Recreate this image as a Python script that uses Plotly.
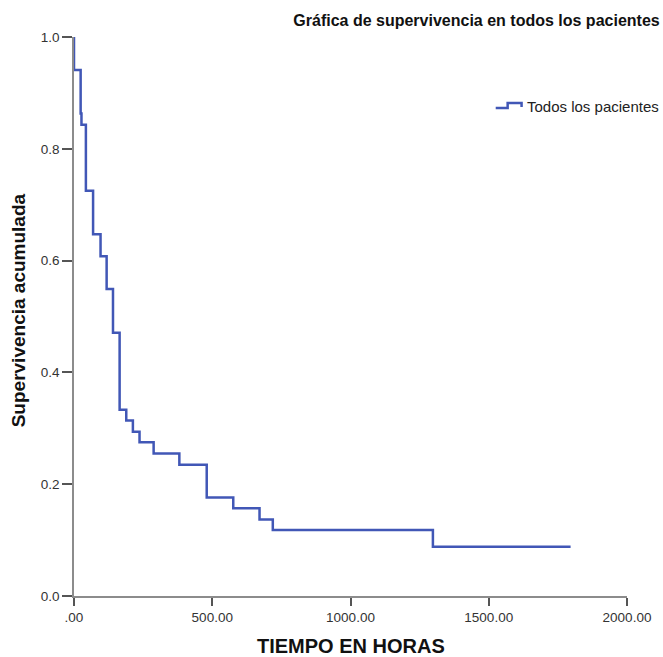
import plotly.graph_objects as go

# Kaplan-Meier step data (time in hours, cumulative survival)
tiempo = [0, 0, 24, 27, 43, 69, 96, 118, 141, 165, 189, 213, 237, 288, 381, 480, 576, 671, 719, 1298, 1796]
supervivencia = [1.0, 0.941, 0.863, 0.843, 0.725, 0.647, 0.608, 0.549, 0.471, 0.333, 0.314, 0.294,
                 0.275, 0.255, 0.235, 0.176, 0.157, 0.137, 0.118, 0.088, 0.088]

x_ticks = [0, 500, 1000, 1500, 2000]
x_ticklabels = [".00", "500.00", "1000.00", "1500.00", "2000.00"]
y_ticks = [0.0, 0.2, 0.4, 0.6, 0.8, 1.0]
y_ticklabels = ["0.0", "0.2", "0.4", "0.6", "0.8", "1.0"]

FONT = "Liberation Sans, Arial, sans-serif"
LINE = "#4157b6"
AXIS = "#8c8c8c"

# plot area in pixels (for paper-coordinate decorations)
L, R, T, B = 74, 630, 37, 596
PW, PH = R - L, B - T


def px(x):
    return (x - L) / PW


def py(y):
    return (B - y) / PH


fig = go.Figure()
fig.add_trace(go.Scatter(
    x=tiempo, y=supervivencia, mode="lines", line_shape="hv",
    line=dict(color=LINE, width=2.5), name="Todos los pacientes",
    cliponaxis=False, showlegend=False,
))

# legend icon (step-shaped) + text
icon = (f"M {px(498)},{py(108)} L {px(510)},{py(108)} L {px(510)},{py(103)} "
        f"L {px(524)},{py(103)} L {px(524)},{py(107)}")

fig.update_layout(
    width=663, height=657,
    margin=dict(l=L, r=663 - R, t=T, b=657 - B),
    paper_bgcolor="white", plot_bgcolor="white",
    font=dict(family=FONT, size=12, color="#222"),
    title=dict(text="<b>Gráfica de supervivencia en todos los pacientes</b>",
               xref="container", x=0.995, xanchor="right",
               yref="container", y=1 - 20 / 657, yanchor="middle",
               font=dict(size=16, color="#111", family=FONT)),
    showlegend=False,
    xaxis=dict(range=[0, 2000], tickvals=x_ticks, ticktext=x_ticklabels,
               showgrid=False, zeroline=False, showline=True, linecolor=AXIS, linewidth=1.5,
               ticks="outside", ticklen=8, tickcolor="#555", tickwidth=2,
               tickfont=dict(size=13.5, color="#333")),
    yaxis=dict(range=[0, 1], tickvals=y_ticks, ticktext=y_ticklabels,
               showgrid=False, zeroline=False, showline=True, linecolor=AXIS, linewidth=1.5,
               ticks="outside", ticklen=10, tickcolor="#555", tickwidth=2,
               tickfont=dict(size=13.5, color="#333")),
    shapes=[dict(type="path", path=icon, xref="paper", yref="paper",
                 line=dict(color=LINE, width=2.5))],
    annotations=[
        dict(text="Todos los pacientes", xref="paper", yref="paper",
             x=px(527), y=py(106), xanchor="left", yanchor="middle",
             showarrow=False, font=dict(size=15, color="#222", family=FONT)),
        dict(text="<b>TIEMPO EN HORAS</b>", xref="paper", yref="paper",
             x=0.5, y=-(646 - B) / PH, xanchor="center", yanchor="middle",
             showarrow=False, font=dict(size=20, color="#111", family=FONT)),
        dict(text="<b>Supervivencia acumulada</b>", xref="paper", yref="paper",
             x=-(L - 18) / PW, y=py(310), xanchor="center", yanchor="middle", textangle=-90,
             showarrow=False, font=dict(size=19, color="#111", family=FONT)),
    ],
)

fig.write_html("out.html")
